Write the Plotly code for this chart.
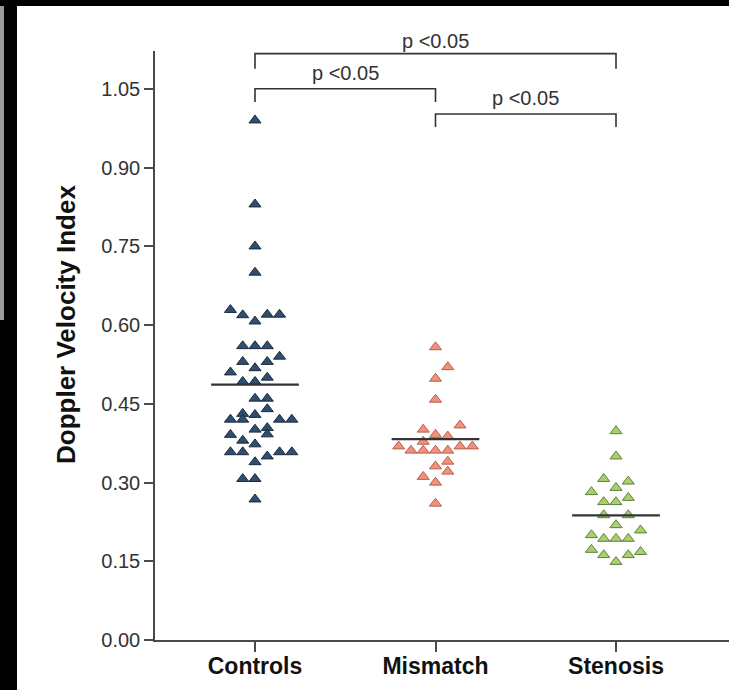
import numpy as np
import plotly.graph_objects as go

# ---------------- data ----------------
categories = ["Controls", "Mismatch", "Stenosis"]

controls_values = [0.99, 0.83, 0.75, 0.70,
                   0.629, 0.619, 0.607, 0.620, 0.620,
                   0.560, 0.560, 0.560,
                   0.540, 0.530, 0.530, 0.518, 0.510,
                   0.500, 0.492, 0.492,
                   0.460, 0.460, 0.440, 0.431, 0.429,
                   0.420, 0.420, 0.420, 0.420,
                   0.401, 0.404, 0.392, 0.391, 0.380, 0.373,
                   0.358, 0.358, 0.350, 0.358, 0.358,
                   0.339, 0.307, 0.307, 0.268]
# column (swarm slot) of each point in the dot plot
controls_col = [0, 0, 0, 0,
                -2, -1, 0, 1, 2,
                -1, 0, 1,
                2, -1, 1, 0, -2,
                1, -1, 0,
                0, 1, 1, -1, 0,
                -2, -1, 2, 3,
                0, 1, 1, -2, -1, 0,
                -2, -1, 1, 2, 3,
                0, -1, 0, 0]

mismatch_values = [0.558, 0.520, 0.498, 0.458,
                   0.409, 0.401, 0.391, 0.388, 0.378,
                   0.369, 0.369, 0.369,
                   0.361, 0.361, 0.361, 0.361,
                   0.340, 0.331, 0.321, 0.311, 0.300, 0.260]
mismatch_col = [0, 1, 0, 0,
                2, -1, 0, 1, -1,
                -3, 2, 3,
                -2, -1, 0, 1,
                1, 0, 1, -1, 0, 0]

stenosis_values = [0.398, 0.350, 0.307, 0.302, 0.290, 0.282, 0.271, 0.263, 0.263,
                   0.238, 0.238, 0.219, 0.209, 0.200,
                   0.193, 0.193, 0.193,
                   0.172, 0.168, 0.162, 0.162, 0.149]
stenosis_col = [0, 0, -1, 1, 0, -2, 1, -1, 0,
                -1, 1, 0, 2, -2,
                -1, 0, 1,
                -2, 2, -1, 1, 0]

y_tick_values = [0.00, 0.15, 0.30, 0.45, 0.60, 0.75, 0.90, 1.05]
y_tick_labels = ["0.00", "0.15", "0.30", "0.45", "0.60", "0.75", "0.90", "1.05"]
y_title = "Doppler Velocity Index"

# significance comparisons: (group a, group b, label)
comparisons = [(0, 2, "p <0.05"), (0, 1, "p <0.05"), (1, 2, "p <0.05")]

# ---------------- styling ----------------
FONT = "Liberation Sans, Arial, Helvetica, sans-serif"
fills = ["#2f4e70", "#f2917b", "#a9d06e"]
edges = ["#1b2b3d", "#b5604c", "#5f7f35"]
slot = 0.068
mean_half = 0.243
Y_MAX = 1.122

groups = [(controls_values, controls_col),
          (mismatch_values, mismatch_col),
          (stenosis_values, stenosis_col)]

fig = go.Figure()

for i, (vals, cols) in enumerate(groups):
    xs = [i + c * slot for c in cols]
    fig.add_trace(go.Scatter(
        x=xs, y=vals, mode="markers",
        marker=dict(symbol="triangle-up", size=10.5, color=fills[i],
                    line=dict(color=edges[i], width=1)),
        hoverinfo="y", showlegend=False))

for i, (vals, cols) in enumerate(groups):
    m = float(np.mean(vals))
    fig.add_trace(go.Scatter(
        x=[i - mean_half, i + mean_half], y=[m, m], mode="lines",
        line=dict(color="#333333", width=2.2), hoverinfo="skip", showlegend=False))

# brackets
bracket_levels = {(0, 2): (1.117, 1.088, 1.142),
                  (0, 1): (1.050, 1.025, 1.080),
                  (1, 2): (1.002, 0.977, 1.032)}
for a, b, label in comparisons:
    top, low, ty = bracket_levels[(a, b)]
    fig.add_shape(type="path",
                  path=f"M {a},{low} L {a},{top} L {b},{top} L {b},{low}",
                  xref="x", yref="y", line=dict(color="#333333", width=1.6))
    fig.add_annotation(x=(a + b) / 2, y=ty / Y_MAX, xref="x", yref="paper", text=label,
                       xanchor="center", yanchor="middle",
                       showarrow=False, font=dict(family=FONT, size=20, color="#333333"))

# photo frame (black border of the scanned figure)
L, T, W, H = 155, 51, 574, 589
def px(xp):
    return (xp - L) / W
def py(yp):
    return (T + H - yp) / H
frame = [(0, 0, 729, 6, "black"), (0, 0, 17, 690, "black"),
         (0, 6, 4, 320, "#9a9a9a")]
for x0, y0, x1, y1, c in frame:
    fig.add_shape(type="rect", xref="paper", yref="paper",
                  x0=px(x0), x1=px(x1), y0=py(y0), y1=py(y1),
                  fillcolor=c, line=dict(width=0), layer="above")

# y-axis title (placed as rotated text, centred where the original sits)
fig.add_annotation(x=px(66), y=py(325), xref="paper", yref="paper", text=y_title,
                   textangle=-90, showarrow=False, xanchor="center", yanchor="middle",
                   font=dict(family=FONT, size=26, color="#111111", weight="bold"))

fig.update_layout(
    width=729, height=690,
    margin=dict(l=L, r=0, t=T, b=50),
    plot_bgcolor="white", paper_bgcolor="white",
    showlegend=False,
    font=dict(family=FONT, color="#333333"),
    xaxis=dict(range=[-0.554, 2.626], tickmode="array", tickvals=[0, 1, 2],
               ticktext=categories, showgrid=False, zeroline=False,
               showline=True, linecolor="#4a4a4a", linewidth=1.5,
               ticks="outside", ticklen=10, tickwidth=1.5, tickcolor="#4a4a4a",
               ticklabelstandoff=-5,
               tickfont=dict(family=FONT, size=23, color="#111111", weight="bold")),
    yaxis=dict(range=[0, Y_MAX], tickmode="array", tickvals=y_tick_values,
               ticktext=y_tick_labels, showgrid=False, zeroline=False,
               showline=True, linecolor="#4a4a4a", linewidth=1.5,
               ticks="outside", ticklen=9, tickwidth=1.5, tickcolor="#4a4a4a",
               tickfont=dict(family=FONT, size=20, color="#333333")),
)

fig.write_html("out.html", config={"displayModeBar": False},
               post_script="document.body.style.margin='0';")
